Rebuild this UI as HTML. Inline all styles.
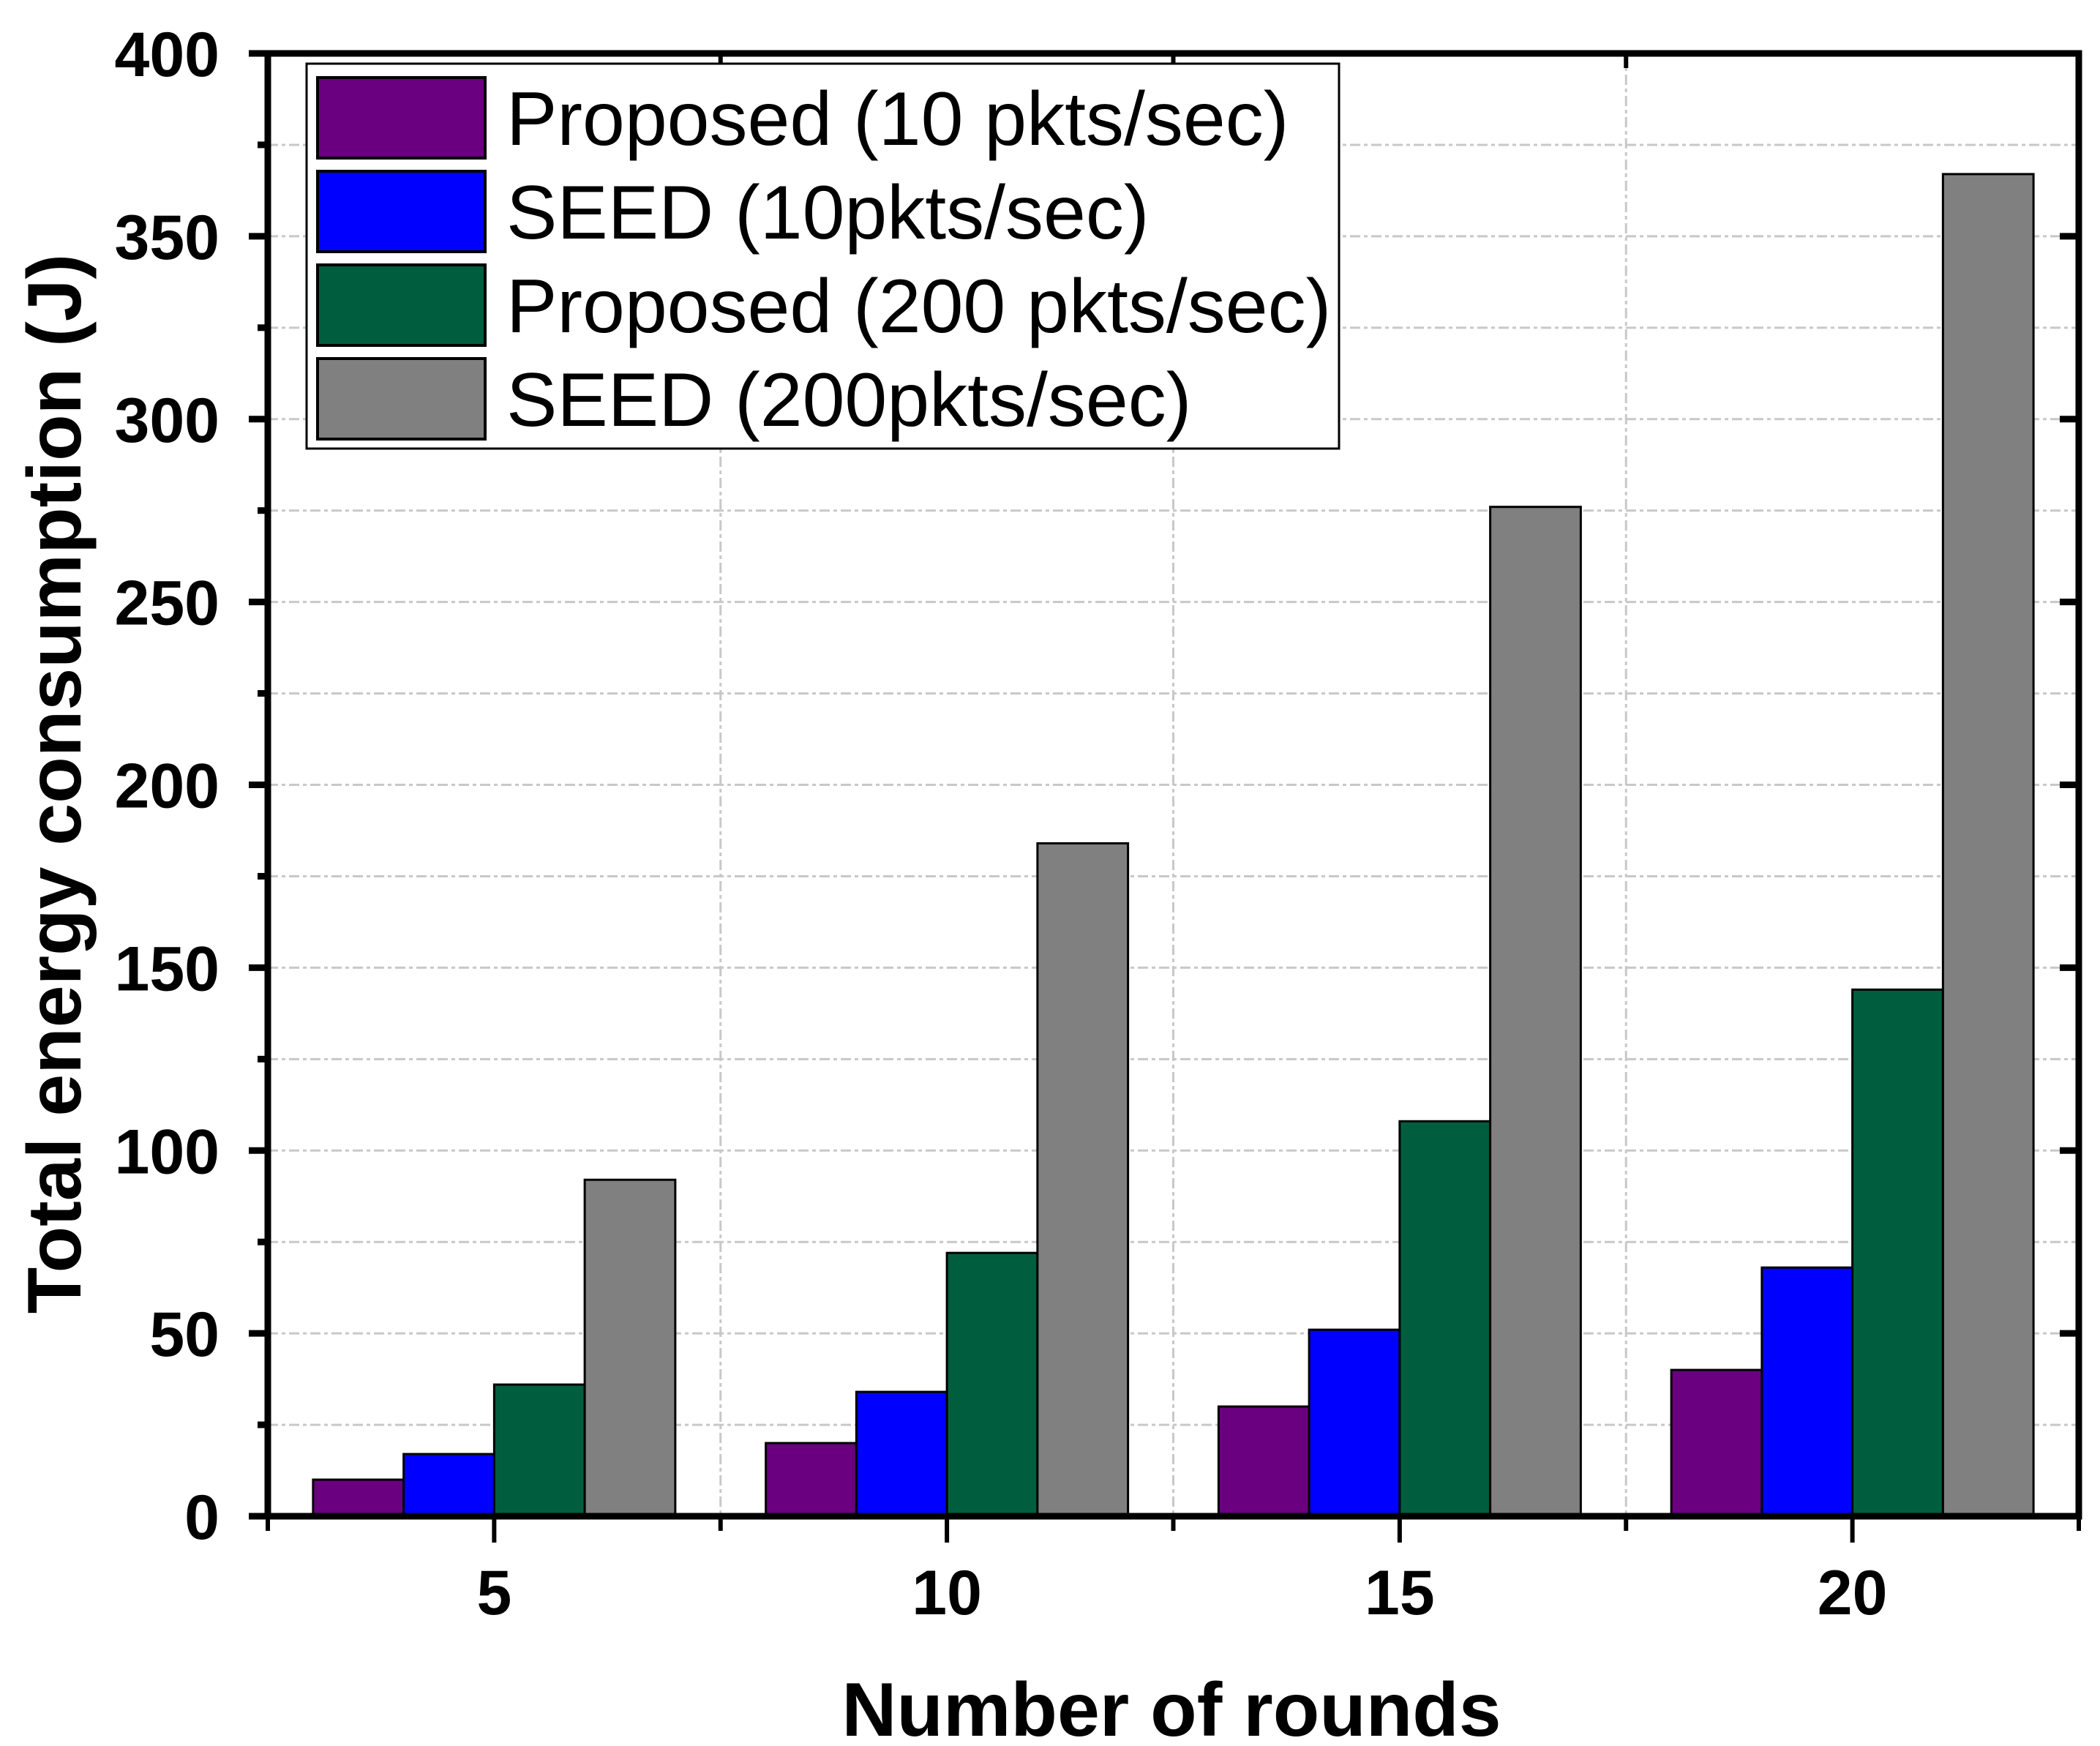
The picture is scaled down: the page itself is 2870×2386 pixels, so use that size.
<!DOCTYPE html>
<html><head><meta charset="utf-8"><style>
html,body{margin:0;padding:0;background:#fff;}
svg{display:block;font-family:"Liberation Sans",Arial,sans-serif;}
</style></head><body>
<svg id="chart" width="2870" height="2386" viewBox="0 0 2870 2386" xmlns="http://www.w3.org/2000/svg">
<g id="grid"></g>
<g id="bars"></g>
<g id="axes"></g>
<text transform="translate(110,1071) rotate(-90)" text-anchor="middle" font-size="104" font-weight="bold">Total energy consumption (J)</text>
<text x="1601" y="2372" text-anchor="middle" font-size="104" font-weight="bold">Number of rounds</text>
<g id="legend"></g>
</svg>
<script>
const categories = [5, 10, 15, 20];
const seriesNames = ["Proposed (10 pkts/sec)", "SEED (10pkts/sec)", "Proposed (200 pkts/sec)", "SEED (200pkts/sec)"];
const proposed10 = [10, 20, 30, 40];
const seed10 = [17, 34, 51, 68];
const proposed200 = [36, 72, 108, 144];
const seed200 = [92, 184, 276, 367];
const yTicks = [0, 50, 100, 150, 200, 250, 300, 350, 400];
const seriesColors = ["#6a0080", "#0000ff", "#005e3e", "#808080"];

const NS = "http://www.w3.org/2000/svg";
const L = 366, R = 2841, T = 73, B = 2072;
const xMin = 2.5, xMax = 22.5, yMin = 0, yMax = 400;
const xs = v => L + (v - xMin) / (xMax - xMin) * (R - L);
const ys = v => B - (v - yMin) / (yMax - yMin) * (B - T);
function mk(tag, attrs, parent) {
  const e = document.createElementNS(NS, tag);
  for (const k in attrs) e.setAttribute(k, attrs[k]);
  parent.appendChild(e);
  return e;
}
const grid = document.getElementById('grid');
const bars = document.getElementById('bars');
const axes = document.getElementById('axes');
const legend = document.getElementById('legend');

for (let v = 25; v < 400; v += 25) {
  const g = mk('line', {x1: L, x2: R, y1: ys(v), y2: ys(v), stroke: '#c8c8c8', 'stroke-width': 3, 'stroke-dasharray': '14 5 5 5'}, grid);
  
  
}
for (let i = 0; i < categories.length - 1; i++) {
  const v = (categories[i] + categories[i + 1]) / 2;
  const g = mk('line', {x1: xs(v), x2: xs(v), y1: T, y2: B, stroke: '#c8c8c8', 'stroke-width': 3, 'stroke-dasharray': '14 5 5 5'}, grid);
  
  
}

const series = [proposed10, seed10, proposed200, seed200];
series.forEach((vals, s) => {
  vals.forEach((v, i) => {
    const x0 = xs(categories[i] - 2 + s), x1 = xs(categories[i] - 1 + s);
    const r = mk('rect', {x: x0, y: ys(v), width: x1 - x0, height: ys(0) - ys(v), fill: seriesColors[s], stroke: '#000', 'stroke-width': 3}, bars);
    
    
  });
});

const frame = mk('rect', {x: L, y: T, width: R - L, height: B - T, fill: 'none', stroke: '#000', 'stroke-width': 9}, axes);



yTicks.forEach(v => {
  const t = mk('line', {x1: L - 26, x2: L, y1: ys(v), y2: ys(v), stroke: '#000', 'stroke-width': 9}, axes);
  
  
  const t2 = mk('line', {x1: R - 26, x2: R, y1: ys(v), y2: ys(v), stroke: '#000', 'stroke-width': 9}, axes);
  
  
  const lb = mk('text', {x: L - 66, y: ys(v) + 31, 'text-anchor': 'end', 'font-size': 86, 'font-weight': 'bold'}, axes);
  lb.textContent = v;
  
  
});
for (let v = 25; v < 400; v += 50) {
  const t = mk('line', {x1: L - 14, x2: L, y1: ys(v), y2: ys(v), stroke: '#000', 'stroke-width': 9}, axes);
  
  
}
categories.forEach(c => {
  const t = mk('line', {x1: xs(c), x2: xs(c), y1: B, y2: B + 36, stroke: '#000', 'stroke-width': 6}, axes);
  
  
  const lb = mk('text', {x: xs(c), y: B + 134, 'text-anchor': 'middle', 'font-size': 86, 'font-weight': 'bold'}, axes);
  lb.textContent = c;
  
  
});
for (let i = 0; i <= categories.length; i++) {
  const v = xMin + i * 5;
  const t = mk('line', {x1: xs(v), x2: xs(v), y1: B, y2: B + 20, stroke: '#000', 'stroke-width': 6}, axes);
  
  
  const t2 = mk('line', {x1: xs(v), x2: xs(v), y1: T, y2: T + 20, stroke: '#000', 'stroke-width': 6}, axes);
  
  
}

const lbox = mk('rect', {x: 419, y: 87, width: 1411, height: 526, fill: '#fff', stroke: '#000', 'stroke-width': 3}, legend);


seriesNames.forEach((n, i) => {
  const y = 106 + i * 128;
  const sw = mk('rect', {x: 434, y: y, width: 229, height: 110, fill: seriesColors[i], stroke: '#000', 'stroke-width': 4}, legend);
  
  
  const tx = mk('text', {x: 692, y: y + 92, 'font-size': 104}, legend);
  tx.textContent = n;
  
  
});
</script>
</body></html>
